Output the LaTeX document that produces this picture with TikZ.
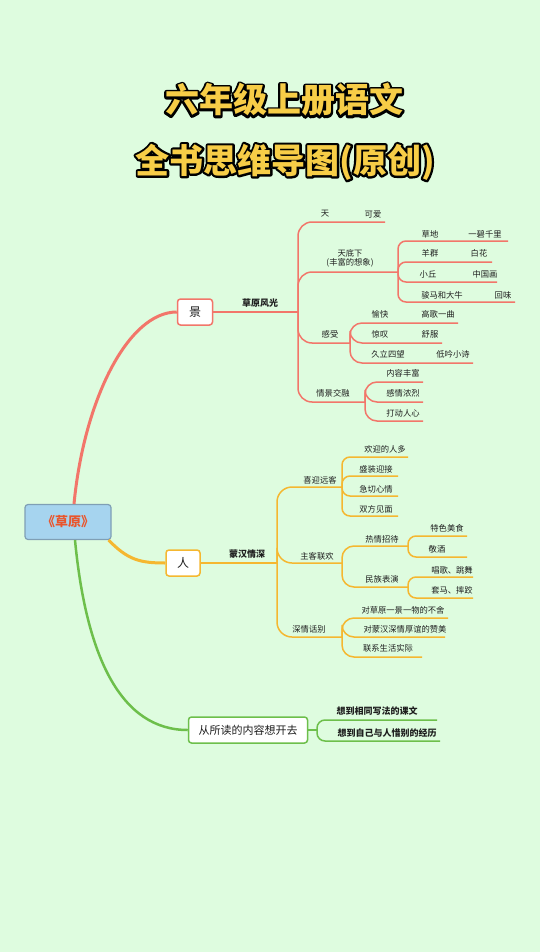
\documentclass[tikz,border=0pt]{standalone}
\usepackage{fontspec}
\newfontfamily\cjk{Noto Sans CJK SC}
\newfontfamily\cjkfat{Noto Sans CJK SC}[BoldFeatures={FakeBold=13}]
\definecolor{bg}{HTML}{DEFCDF}
\definecolor{redb}{HTML}{F2766A}
\definecolor{orab}{HTML}{F5B730}
\definecolor{grnb}{HTML}{6DBF4B}
\definecolor{rootfill}{HTML}{A6D4EF}
\definecolor{rootdraw}{HTML}{7F9FB5}
\definecolor{roottext}{HTML}{E9552C}
\definecolor{ttl}{HTML}{F7CD47}
\definecolor{txt}{HTML}{1E1E1E}
\begin{document}
\begin{tikzpicture}[x=1pt,y=-1pt,
  lbl/.style={font=\cjk\fontsize{8.3}{9}\selectfont, text=txt, inner sep=0pt},
  lblb/.style={font=\cjk\bfseries\fontsize{9}{10}\selectfont, text=txt, inner sep=0pt},
  ttlfont/.style={font=\cjk\bfseries\fontsize{34}{36}\selectfont, inner sep=0pt},
  ttlfat/.style={font=\cjkfat\bfseries\fontsize{34}{36}\selectfont, inner sep=0pt, line join=round, line cap=round},
  redm/.style={draw=redb, line width=1.8pt},
  redl/.style={draw=redb, line width=1.5pt},
  oram/.style={draw=orab, line width=1.8pt},
  oral/.style={draw=orab, line width=1.5pt},
  grnl/.style={draw=grnb, line width=1.5pt},
  topbox/.style={fill=white, line width=1.5pt, rounded corners=3pt, inner sep=0pt, minimum height=26pt}
]
\fill[bg] (0,0) rectangle (540,952);
\useasboundingbox (0,0) rectangle (540,952);

% ---------- title ----------
\begin{scope}[line join=round, line cap=round]
\node[ttlfat, text=black] (title1o) at (284,100) {\special{pdf:literal direct 1 j 1 J}六年级上册语文};
\node[ttlfat, text=black] (title2o) at (285,162) {\special{pdf:literal direct 1 j 1 J}全书思维导图(原创)};
\end{scope}
\node[ttlfont, text=ttl] (title1) at (284,100) {六年级上册语文};
\node[ttlfont, text=ttl] (title2) at (285,162) {全书思维导图(原创)};

% ---------- main nodes ----------
\node[draw=rootdraw, line width=1.2pt, fill=rootfill, rounded corners=3pt, minimum width=86pt, minimum height=35pt, inner sep=0pt,
      font=\cjk\bfseries\fontsize{13}{14}\selectfont, text=roottext] (root) at (68,522) {《草原》};
\node[topbox, draw=redb, minimum width=35pt, font=\cjk\fontsize{12}{13}\selectfont, text=txt] (jing) at (195,312) {景};
\node[topbox, draw=orab, minimum width=34pt, font=\cjk\fontsize{12}{13}\selectfont, text=txt] (ren) at (183,563) {人};
\node[topbox, draw=grnb, minimum width=119pt, font=\cjk\fontsize{11}{12}\selectfont, text=txt] (cong) at (248,730) {从所读的内容想开去};

% ---------- main curves ----------
\draw[draw=redb, line width=3pt] ([xshift=6pt]root.north) .. controls (84,400) and (128,312) .. (jing.west);
\draw[draw=orab, line width=3pt] ([xshift=-3pt]root.south east) .. controls (128,560) and (140,563) .. (ren.west);
\draw[draw=grnb, line width=2.5pt] ([xshift=7pt]root.south) .. controls (86,655) and (120,730) .. (cong.west);

% ---------- red branch ----------
\coordinate (j1) at (298,312);
\coordinate (e11) at (385,222);
\coordinate (j2) at (398,272);
\coordinate (j3) at (350,343);
\coordinate (j4) at (365,402);
\draw[redm] (jing.east) -- (j1);
\foreach \e in {e11,j2,j3,j4} \draw[redl, rounded corners=14pt] (j1) |- (\e);
\coordinate (e21) at (508,241);
\coordinate (e22) at (492,262);
\coordinate (e23) at (497,282);
\coordinate (e24) at (515,302);
\foreach \e in {e21,e22,e23,e24} \draw[redl, rounded corners=8pt] (j2) |- (\e);
\coordinate (e31) at (458,323);
\coordinate (e32) at (442,343);
\coordinate (e33) at (473,363);
\foreach \e in {e31,e32,e33} \draw[redl, rounded corners=12pt] (j3) |- (\e);
\coordinate (e41) at (423,382);
\coordinate (e42) at (423,402);
\coordinate (e43) at (423,421);
\foreach \e in {e41,e42,e43} \draw[redl, rounded corners=12pt] (j4) |- (\e);

\node[lblb] (r0) at (260,303) {草原风光};
\node[lbl] (r1) at (325,214) {天};
\node[lbl] (r1b) at (373,214) {可爱};
\node[lbl] (r2) at (350,253) {天底下};
\node[lbl] (r2b) at (350,263) {(丰富的想象)};
\node[lbl] (r21) at (430,234) {草地};
\node[lbl] (r21b) at (485,234) {一碧千里};
\node[lbl] (r22) at (430,253) {羊群};
\node[lbl] (r22b) at (479,253) {白花};
\node[lbl] (r23) at (428,274) {小丘};
\node[lbl] (r23b) at (485,274) {中国画};
\node[lbl] (r24) at (442,295) {骏马和大牛};
\node[lbl] (r24b) at (503,295) {回味};
\node[lbl] (r3) at (330,334) {感受};
\node[lbl] (r31) at (380,314) {愉快};
\node[lbl] (r31b) at (438,314) {高歌一曲};
\node[lbl] (r32) at (380,334) {惊叹};
\node[lbl] (r32b) at (430,334) {舒服};
\node[lbl] (r33) at (388,354) {久立四望};
\node[lbl] (r33b) at (453,354) {低吟小诗};
\node[lbl] (r4) at (333,393) {情景交融};
\node[lbl] (r41) at (403,373) {内容丰富};
\node[lbl] (r42) at (403,393) {感情浓烈};
\node[lbl] (r43) at (403,413) {打动人心};

% ---------- orange branch ----------
\coordinate (j5) at (277,563);
\coordinate (j6) at (342,487);
\coordinate (j7) at (342,563);
\coordinate (j8) at (342,637);
\draw[oram] (ren.east) -- (j5);
\foreach \e in {j6,j7,j8} \draw[oral, rounded corners=15pt] (j5) |- (\e);
\coordinate (e61) at (408,457);
\coordinate (e62) at (398,476);
\coordinate (e63) at (398,496);
\coordinate (e64) at (398,516);
\foreach \e in {e61,e62,e63,e64} \draw[oral, rounded corners=8pt] (j6) |- (\e);
\coordinate (j9) at (408,546);
\coordinate (j10) at (408,587);
\foreach \e in {j9,j10} \draw[oral, rounded corners=12pt] (j7) |- (\e);
\coordinate (e91) at (467,536);
\coordinate (e92) at (467,557);
\foreach \e in {e91,e92} \draw[oral, rounded corners=8pt] (j9) |- (\e);
\coordinate (e101) at (473,577);
\coordinate (e102) at (473,598);
\foreach \e in {e101,e102} \draw[oral, rounded corners=8pt] (j10) |- (\e);
\coordinate (e81) at (448,618);
\coordinate (e82) at (445,637);
\coordinate (e83) at (422,657);
\foreach \e in {e81,e82,e83} \draw[oral, rounded corners=12pt] (j8) |- (\e);

\node[lblb] (o0) at (247,554) {蒙汉情深};
\node[lbl] (o1) at (320,480) {喜迎远客};
\node[lbl] (o11) at (385,449) {欢迎的人多};
\node[lbl] (o12) at (376,469) {盛装迎接};
\node[lbl] (o13) at (376,489) {急切心情};
\node[lbl] (o14) at (376,509) {双方见面};
\node[lbl] (o2) at (317,556) {主客联欢};
\node[lbl] (o21) at (382,539) {热情招待};
\node[lbl] (o22) at (382,579) {民族表演};
\node[lbl] (o211) at (447,528) {特色美食};
\node[lbl] (o212) at (437,549) {敬酒};
\node[lbl] (o221) at (452,570) {唱歌、跳舞};
\node[lbl] (o222) at (452,590) {套马、摔跤};
\node[lbl] (o3) at (309,629) {深情话别};
\node[lbl] (o31) at (403,610) {对草原一景一物的不舍};
\node[lbl] (o32) at (405,629) {对蒙汉深情厚谊的赞美};
\node[lbl] (o33) at (388,648) {联系生活实际};

% ---------- green branch ----------
\coordinate (j11) at (317,730);
\coordinate (e111) at (437,720);
\coordinate (e112) at (440,741);
\draw[grnl] (cong.east) -- (j11);
\foreach \e in {e111,e112} \draw[grnl, rounded corners=8pt] (j11) |- (\e);
\node[lblb] (g1) at (377,711) {想到相同写法的课文};
\node[lblb] (g2) at (387,733) {想到自己与人惜别的经历};
\end{tikzpicture}
\end{document}
